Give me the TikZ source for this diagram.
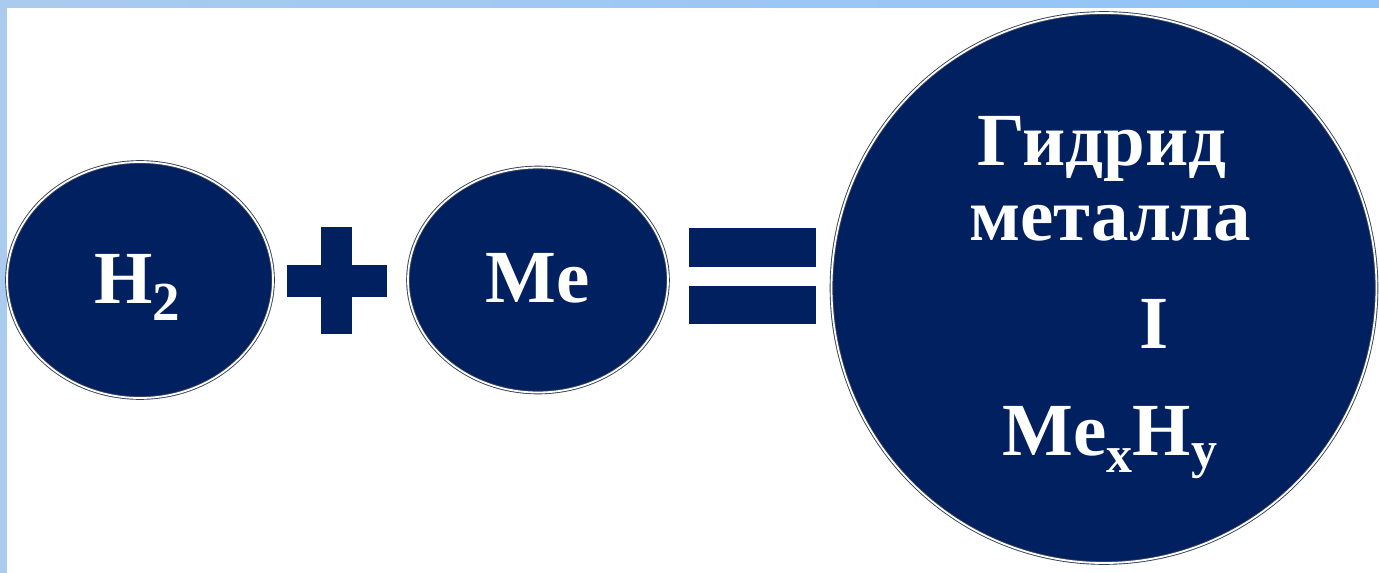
\documentclass[tikz,border=0pt]{standalone}
\usepackage{fontspec}
\setmainfont{Liberation Serif}
\usetikzlibrary{shapes.geometric}
\definecolor{navy}{HTML}{002060}
\definecolor{rim}{HTML}{34405A}
\definecolor{stripL}{HTML}{AACBEE}
\definecolor{stripR}{HTML}{90C4F8}
\begin{document}
\begin{tikzpicture}[x=1pt,y=-1pt,
  ball/.style={ellipse, fill=navy, draw=rim, double=white, double distance=1.8pt, line width=0.9pt, inner sep=0pt},
  big/.style={font=\bfseries\fontsize{75}{75}\selectfont, text=white, inner sep=0pt, anchor=base},
  sym/.style={rectangle, fill=navy, draw=none, inner sep=0pt}]
\useasboundingbox (0,0) rectangle (1379,573);
\fill[white] (0,0) rectangle (1379,573);
\shade[left color=stripL, right color=stripR] (0,0) rectangle (1379,7);
\fill[stripL] (0,0) rectangle (7,573);
% circles
\node[ball, minimum width=266pt, minimum height=236pt] (h2) at (140,280) {};
\node[ball, minimum width=260pt, minimum height=225pt] (me) at (538,280) {};
\node[ball, minimum width=545pt, minimum height=550pt] (hyd) at (1104,288) {};
% plus
\node[sym, minimum width=100pt, minimum height=32pt] (plush) at (337,281) {};
\node[sym, minimum width=31pt, minimum height=107pt] (plusv) at (336.5,280.5) {};
% equals
\node[sym, minimum width=127pt, minimum height=39pt] (eqa) at (752.5,247.5) {};
\node[sym, minimum width=127pt, minimum height=38pt] (eqb) at (752.5,305) {};
% texts
\node[big] (h2t) at (137,303) {H\raisebox{-17pt}{\fontsize{55}{55}\selectfont 2}};
\node[big] (met) at (538,302) {Me};
\node[big] (l1) at (1102,165) {Гидрид};
\node[big] (l2) at (1110,240) {металла};
\node[big] (l3) at (1154,348) {I};
\node[big] (l4) at (1110,455) {Me\raisebox{-17pt}{\fontsize{52}{52}\selectfont x}H\raisebox{-12pt}{\fontsize{52}{52}\selectfont y}};
\end{tikzpicture}
\end{document}
